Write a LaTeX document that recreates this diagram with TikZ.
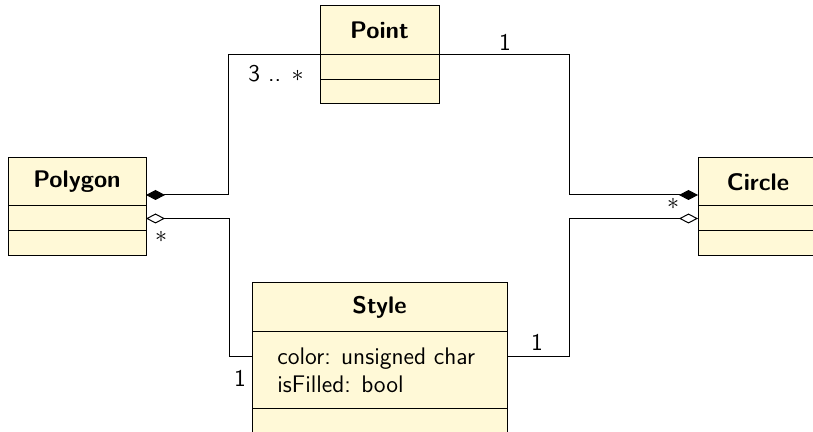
\documentclass[tikz,border=0pt]{standalone}
\usetikzlibrary{arrows.meta}
\definecolor{classfill}{RGB}{255,249,215}
\begin{document}
\begin{tikzpicture}[x=0.5pt,y=-0.5pt,font=\sffamily\fontsize{12}{14}\selectfont,
  part/.style={draw=black,fill=classfill,rectangle,inner sep=0pt,outer sep=0pt,line width=0.5pt},
  comp/.style={line width=0.5pt,-{Diamond[length=9.5pt,width=5pt,fill=black]}},
  aggr/.style={line width=0.5pt,-{Diamond[length=9.5pt,width=5pt,open,fill=white]}},
  mult/.style={inner sep=1pt}]
\useasboundingbox (0,0) rectangle (813,432);
% Point
\node[part,minimum width=59.5pt,minimum height=24.5pt] (pointh) at (379.5,30.5) {\bfseries Point};
\node[part,minimum width=59.5pt,minimum height=12.25pt,anchor=north] (pointa) at (pointh.south) {};
\node[part,minimum width=59.5pt,minimum height=12.25pt,anchor=north] (pointo) at (pointa.south) {};
% Polygon
\node[part,minimum width=69pt,minimum height=24pt] (polyh) at (77,182) {\bfseries Polygon};
\node[part,minimum width=69pt,minimum height=12.5pt,anchor=north] (polya) at (polyh.south) {};
\node[part,minimum width=69pt,minimum height=12.5pt,anchor=north] (polyo) at (polya.south) {};
% Circle
\node[part,minimum width=60pt,minimum height=24pt] (circh) at (758,182) {\bfseries Circle};
\node[part,minimum width=60pt,minimum height=12.5pt,anchor=north] (circa) at (circh.south) {};
\node[part,minimum width=60pt,minimum height=12.5pt,anchor=north] (circo) at (circa.south) {};
% Style
\node[part,minimum width=127.5pt,minimum height=24.5pt] (styleh) at (379.5,307.5) {\bfseries Style};
\node[part,minimum width=127.5pt,minimum height=38pt,anchor=north] (stylea) at (styleh.south) {};
\node[part,minimum width=127.5pt,minimum height=16pt,anchor=north] (styleo) at (stylea.south) {};
\node[anchor=west,align=left,inner sep=0pt] (styletxt) at ([xshift=12.5pt]stylea.west) {color: unsigned char\\isFilled: bool};
% connectors
\draw[comp] (pointh.south west) -- ++(-92,0) |- ([yshift=-6.5pt]polyh.east);
\draw[comp] (pointh.south east) -- ++(130,0) |- ([yshift=-6.5pt]circh.west);
\draw[aggr] ([yshift=6.5pt]stylea.west) -- ++(-23,0) |- (polya.east);
\draw[aggr] ([yshift=6.5pt]stylea.east) -- ++(62,0) |- (circa.west);
% multiplicities
\node[mult] (m1) at (276,74) {3 .. $*$};
\node[mult] (m2) at (505,42) {1};
\node[mult] (m3) at (673,204) {$*$};
\node[mult] (m4) at (161,237) {$*$};
\node[mult] (m5) at (240,378) {1};
\node[mult] (m6) at (537,342) {1};
\end{tikzpicture}
\end{document}
